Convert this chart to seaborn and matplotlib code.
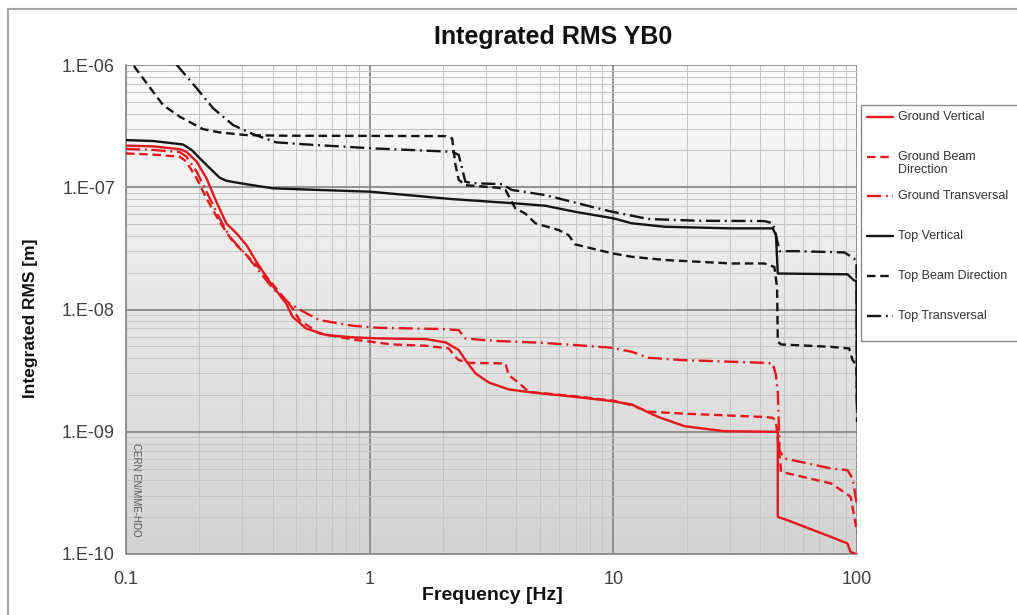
import numpy as np
import pandas as pd
import matplotlib
matplotlib.use("Agg")
import matplotlib.pyplot as plt
import matplotlib.patches as mpatches
from matplotlib.lines import Line2D
from matplotlib.ticker import FixedLocator, FixedFormatter, LogLocator, NullFormatter
import seaborn as sns

# ---- data: integrated RMS displacement vs frequency ----
gv_f = [0.1, 0.129, 0.166, 0.177, 0.195, 0.214, 0.235, 0.258, 0.284, 0.312, 0.343, 0.388, 0.454,
        0.483, 0.548, 0.662, 0.851, 1.09, 1.70, 2.05, 2.32, 2.47, 2.72, 3.08, 3.72, 4.79, 6.97,
        9.9, 11.9, 15.3, 19.6, 28.6, 45.1, 47.3, 47.3, 50.4, 78.2, 91.4, 94.0, 99.0, 100]
gv_v = [2.19e-7, 2.16e-7, 2.05e-7, 1.95e-7, 1.62e-7, 1.18e-7, 7.6e-8, 5.07e-8, 4.2e-8, 3.37e-8,
        2.46e-8, 1.69e-8, 1.12e-8, 8.7e-9, 7.0e-9, 6.18e-9, 5.92e-9, 5.8e-9, 5.73e-9, 5.38e-9,
        4.66e-9, 3.86e-9, 3.0e-9, 2.53e-9, 2.22e-9, 2.08e-9, 1.93e-9, 1.78e-9, 1.67e-9, 1.32e-9,
        1.11e-9, 1.01e-9, 1.0e-9, 1.0e-9, 2.01e-10, 1.93e-10, 1.38e-10, 1.22e-10, 1.04e-10,
        1.0e-10, 9e-11]

gb_f = [0.1, 0.129, 0.166, 0.177, 0.195, 0.214, 0.242, 0.275, 0.312, 0.353, 0.413, 0.483, 0.515,
        0.621, 0.851, 1.09, 1.24, 1.70, 2.11, 2.25, 2.32, 2.55, 3.61, 3.72, 4.08, 4.49, 6.97, 9.9,
        11.9, 13.9, 19.0, 41.7, 45.1, 46.5, 47.3, 48.8, 78.2, 91.4, 94.2, 99.7, 100]
gb_v = [1.89e-7, 1.85e-7, 1.78e-7, 1.62e-7, 1.18e-7, 8.1e-8, 5.22e-8, 3.58e-8, 2.79e-8, 2.17e-8,
        1.49e-8, 1.02e-8, 8.2e-9, 6.37e-9, 5.69e-9, 5.34e-9, 5.18e-9, 5.05e-9, 4.81e-9, 4.1e-9,
        3.86e-9, 3.66e-9, 3.62e-9, 2.9e-9, 2.53e-9, 2.12e-9, 1.95e-9, 1.80e-9, 1.65e-9, 1.46e-9,
        1.41e-9, 1.32e-9, 1.30e-9, 1.21e-9, 8.8e-10, 4.7e-10, 3.78e-10, 3.07e-10, 2.93e-10,
        1.57e-10, 1.5e-10]

gt_f = [0.1, 0.129, 0.166, 0.177, 0.195, 0.214, 0.242, 0.266, 0.312, 0.353, 0.400, 0.469, 0.515,
        0.621, 0.851, 1.09, 1.99, 2.32, 2.47, 3.18, 5.09, 6.97, 9.9, 11.9, 13.9, 19.0, 41.7, 45.1,
        46.5, 47.3, 48.0, 48.0, 50.4, 78.2, 91.4, 95.9, 100]
gt_v = [2.06e-7, 2.02e-7, 1.94e-7, 1.78e-7, 1.34e-7, 9.2e-8, 5.57e-8, 3.94e-8, 2.79e-8, 2.04e-8,
        1.49e-8, 1.12e-8, 1.0e-8, 8.2e-9, 7.36e-9, 7.08e-9, 6.92e-9, 6.78e-9, 5.8e-9, 5.55e-9,
        5.34e-9, 5.12e-9, 4.86e-9, 4.51e-9, 4.03e-9, 3.86e-9, 3.66e-9, 3.62e-9, 2.9e-9, 2.12e-9,
        8.8e-10, 7.06e-10, 6.05e-10, 5.01e-10, 4.85e-10, 4.15e-10, 2.5e-10]

tv_f = [0.1, 0.129, 0.171, 0.186, 0.201, 0.221, 0.242, 0.258, 0.293, 0.400, 0.621, 1.0, 2.18,
        3.96, 5.26, 6.97, 10, 11.9, 16.3, 30.4, 45.1, 46.5, 47.3, 91.4, 96.8, 99.5, 100]
tv_v = [2.43e-7, 2.39e-7, 2.24e-7, 2.02e-7, 1.72e-7, 1.43e-7, 1.20e-7, 1.13e-7, 1.08e-7, 9.8e-8,
        9.5e-8, 9.2e-8, 8.0e-8, 7.38e-8, 7.06e-8, 6.3e-8, 5.57e-8, 5.07e-8, 4.75e-8, 4.61e-8,
        4.61e-8, 4.06e-8, 1.97e-8, 1.94e-8, 1.74e-8, 1.7e-8, 1.6e-9]

tb_f = [0.1, 0.129, 0.142, 0.166, 0.207, 0.242, 0.312, 0.454, 2.05, 2.18, 2.25, 2.32, 2.47, 3.39,
        3.61, 3.96, 4.35, 4.79, 5.96, 6.55, 6.97, 8.15, 9.9, 11.9, 16.3, 30.5, 41.7, 45.8, 47.0,
        47.3, 48.8, 78.2, 92.9, 95.9, 99.5, 100]
tb_v = [1.2e-6, 6.05e-7, 4.7e-7, 3.78e-7, 2.99e-7, 2.81e-7, 2.67e-7, 2.64e-7, 2.62e-7, 2.51e-7,
        1.52e-7, 1.15e-7, 1.04e-7, 9.9e-8, 9.5e-8, 6.72e-8, 6.1e-8, 5.07e-8, 4.47e-8, 4.06e-8,
        3.41e-8, 3.16e-8, 2.88e-8, 2.70e-8, 2.54e-8, 2.38e-8, 2.38e-8, 2.23e-8, 1.50e-8, 5.44e-9,
        5.18e-9, 4.95e-9, 4.8e-9, 3.85e-9, 3.5e-9, 1.5e-9]

tt_f = [0.1, 0.166, 0.195, 0.228, 0.275, 0.332, 0.413, 0.548, 1.03, 2.18, 2.32, 2.47, 2.63, 3.49,
        3.84, 5.26, 8.15, 9.9, 13.9, 22.3, 41.7, 45.1, 46.5, 48.1, 57.1, 88.7, 97.3, 99.5, 100]
tt_v = [3.0e-6, 9.4e-7, 6.45e-7, 4.42e-7, 3.23e-7, 2.72e-7, 2.33e-7, 2.24e-7, 2.08e-7, 1.95e-7,
        1.84e-7, 1.11e-7, 1.08e-7, 1.06e-7, 9.5e-8, 8.63e-8, 6.92e-8, 6.3e-8, 5.5e-8, 5.32e-8,
        5.29e-8, 5.07e-8, 4.06e-8, 3.0e-8, 3.0e-8, 2.93e-8, 2.62e-8, 2.4e-8, 1.2e-9]

series_names = ["Ground Vertical", "Ground Beam\nDirection", "Ground Transversal",
                "Top Vertical", "Top Beam Direction", "Top Transversal"]
x_ticks = [0.1, 1, 10, 100]
x_tick_labels = ["0.1", "1", "10", "100"]
y_ticks = [1e-10, 1e-9, 1e-8, 1e-7, 1e-6]
y_tick_labels = ["1.E-10", "1.E-09", "1.E-08", "1.E-07", "1.E-06"]

# ---- styling ----
sns.set_theme(style="white")
plt.rcParams["font.family"] = ["Liberation Sans", "DejaVu Sans"]

RED = "#e8161b"
BLACK = "#141414"
SOLID = "-"
DASH = (0, (3.6, 2.0))
DASHDOT = (0, (6.0, 2.0, 0.8, 2.0))
LW = 1.7

styles = [(RED, SOLID), (RED, DASH), (RED, DASHDOT),
          (BLACK, SOLID), (BLACK, DASH), (BLACK, DASHDOT)]
data = [(gv_f, gv_v), (gb_f, gb_v), (gt_f, gt_v), (tv_f, tv_v), (tb_f, tb_v), (tt_f, tt_v)]

W, H = 1017, 615
fig = plt.figure(figsize=(W / 100, H / 100), dpi=100, facecolor="white")
ax = fig.add_axes([126 / W, 1 - 554 / H, (857 - 126) / W, (554 - 65) / H])

ax.set_xscale("log")
ax.set_yscale("log")
ax.set_xlim(0.1, 100)
ax.set_ylim(1e-10, 1e-6)

# vertical gradient background of the plot area
grad = np.linspace(0, 1, 256).reshape(-1, 1)
cmap = matplotlib.colors.LinearSegmentedColormap.from_list("bg", ["#d2d2d2", "#fbfbfb"])
ax.imshow(grad, extent=[0, 1, 0, 1], transform=ax.transAxes, origin="lower",
          aspect="auto", cmap=cmap, zorder=0, interpolation="bicubic")

for (f, v), (col, ls) in zip(data, styles):
    df = pd.DataFrame({"Frequency": f, "RMS": v})
    sns.lineplot(data=df, x="Frequency", y="RMS", ax=ax, sort=False, estimator=None,
                 color=col, linestyle=ls, linewidth=LW, zorder=3)

# grid and ticks
ax.xaxis.set_major_locator(FixedLocator(x_ticks))
ax.xaxis.set_major_formatter(FixedFormatter(x_tick_labels))
ax.yaxis.set_major_locator(FixedLocator(y_ticks))
ax.yaxis.set_major_formatter(FixedFormatter(y_tick_labels))
ax.xaxis.set_minor_locator(LogLocator(base=10, subs=np.arange(2, 10)))
ax.yaxis.set_minor_locator(LogLocator(base=10, subs=np.arange(2, 10)))
ax.xaxis.set_minor_formatter(NullFormatter())
ax.yaxis.set_minor_formatter(NullFormatter())
ax.grid(True, which="major", color="#7a7a7a", linewidth=1.1, zorder=1)
ax.grid(True, which="minor", color="#c4c4c4", linewidth=0.7, zorder=1)
ax.set_axisbelow(True)

for s in ["top", "right"]:
    ax.spines[s].set_visible(False)
for s in ["left", "bottom"]:
    ax.spines[s].set_color("#8a8a8a")
    ax.spines[s].set_linewidth(1.2)

ax.tick_params(axis="both", which="major", direction="out", length=5, width=1,
               color="#8a8a8a", labelsize=13, labelcolor="#404040", pad=3)
ax.tick_params(axis="both", which="minor", length=0)
ax.tick_params(axis="x", which="major", pad=7)

ax.set_xlabel("Frequency [Hz]", fontsize=14, fontweight="bold", color="#111111")
ax.set_ylabel("Integrated RMS [m]", fontsize=12.5, fontweight="bold", color="#111111")
ax.xaxis.set_label_coords((492 - 126) / (857 - 126), -(595 - 554) / (554 - 65))
ax.yaxis.set_label_coords(-(126 - 31) / (857 - 126), (554 - 318) / (554 - 65))
ax.xaxis.label.set_va("center")
ax.yaxis.label.set_va("center")
if ax.get_legend():
    ax.get_legend().remove()

fig.text(553 / W, 1 - 37 / H, "Integrated RMS YB0", fontsize=18, fontweight="bold",
         ha="center", va="center", color="#111111")

ax.text(0.013, (554 - 490) / (554 - 65), "CERN EN/MME-HDO", transform=ax.transAxes,
        rotation=270, fontsize=7, color="#555555", ha="center", va="center")

# legend box with evenly spaced entries
def fx(px):
    return px / W


def fy(py):
    return 1 - py / H


fig.patches.append(mpatches.Rectangle((fx(861), fy(341)), fx(1040) - fx(861), fy(105) - fy(341),
                                      transform=fig.transFigure, facecolor="white",
                                      edgecolor="#8a8a8a", linewidth=1.0, zorder=5))
handle_y = [117, 157, 196, 236, 276, 316]
text_y = [117, 163.5, 196, 236, 276, 316]
for name, (col, ls), hy, ty in zip(series_names, styles, handle_y, text_y):
    fig.add_artist(Line2D([fx(867), fx(893)], [fy(hy), fy(hy)], transform=fig.transFigure,
                          color=col, linestyle=ls, linewidth=LW, zorder=6))
    fig.text(fx(898), fy(ty), name, fontsize=9, color="#333333", ha="left", va="center",
             linespacing=1.05, zorder=6)

# outer chart frame
fig.patches.append(mpatches.Rectangle((8 / W, -0.1), 1.2, 1.1 - 9 / H, transform=fig.transFigure,
                                      fill=False, edgecolor="#a8a8a8", linewidth=1.5))

fig.savefig("out.png", dpi=100, facecolor="white")
